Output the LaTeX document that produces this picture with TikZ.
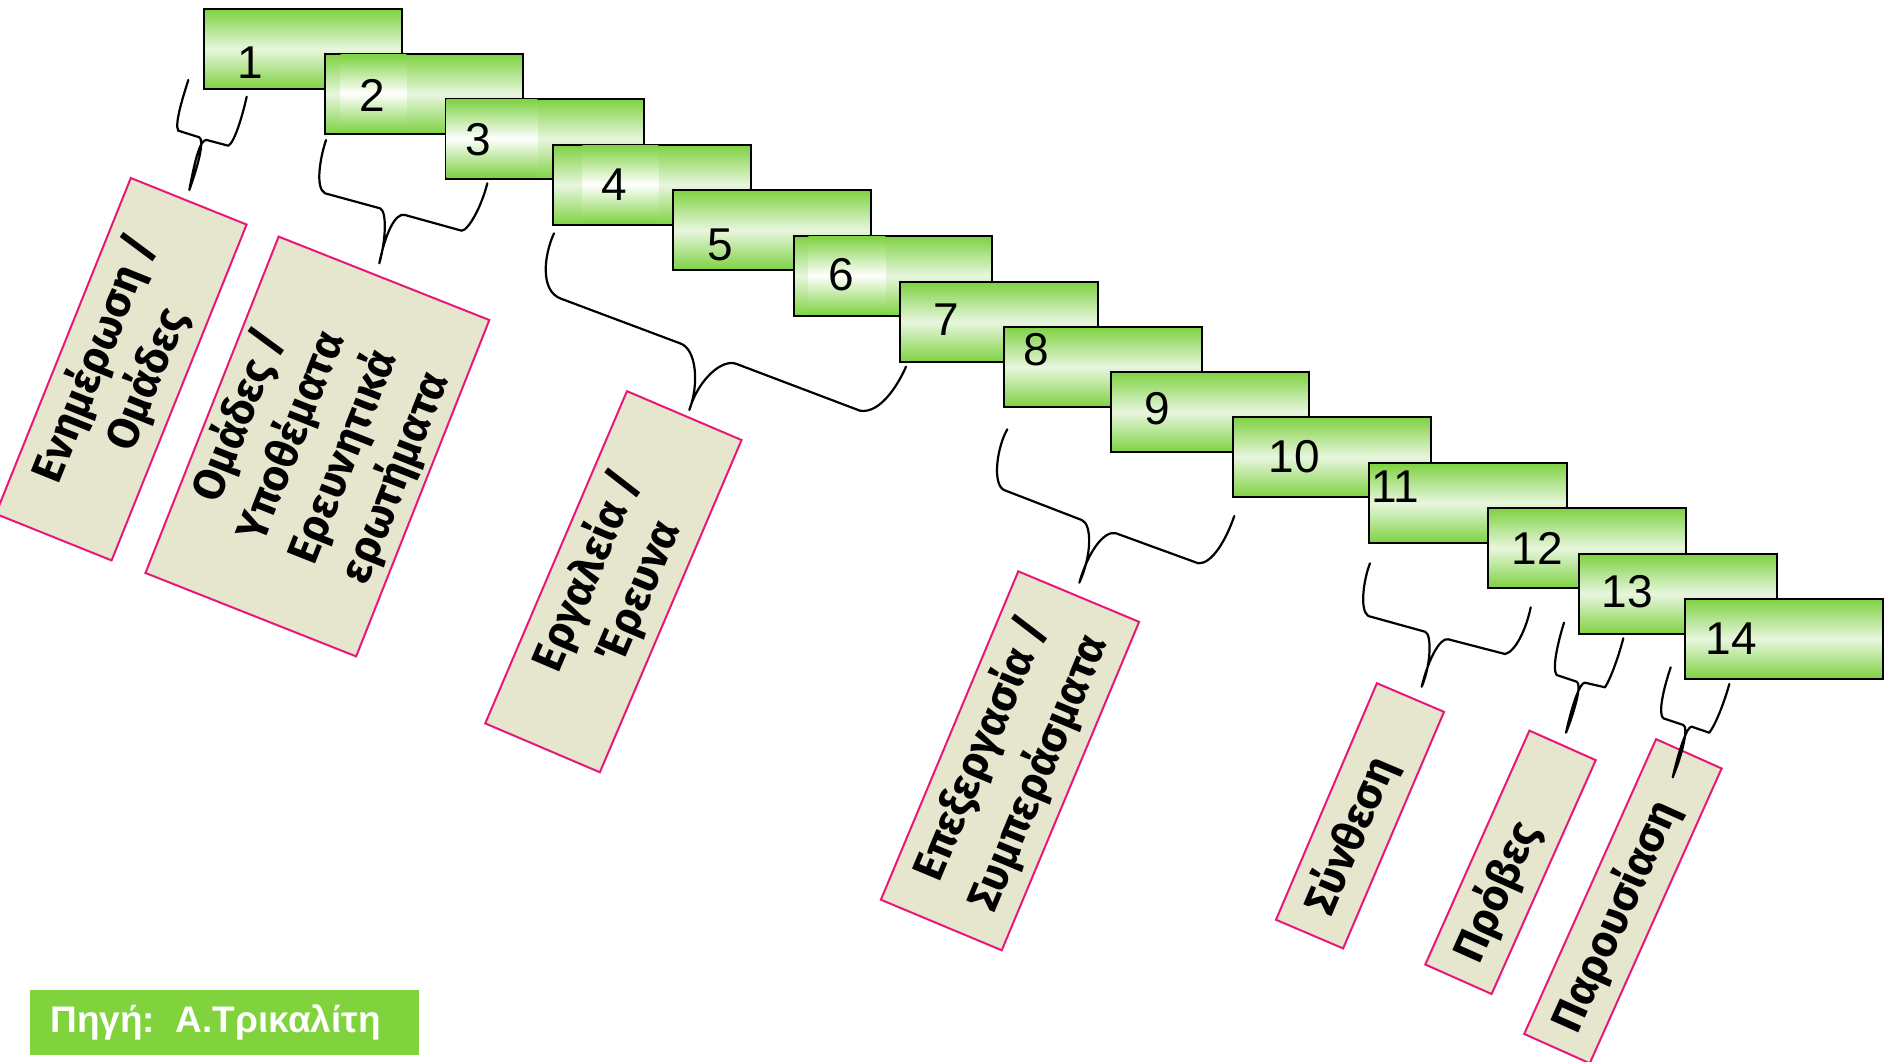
\documentclass[tikz,border=0pt]{standalone}
\usepackage{fontspec}
\setmainfont{Liberation Sans}
\newfontfamily\lblfont{Fira Sans}
\definecolor{gdark}{RGB}{126,210,66}
\definecolor{glight}{RGB}{232,246,222}
\definecolor{pinkb}{RGB}{232,24,122}
\definecolor{beige}{RGB}{230,230,206}
\definecolor{srcgreen}{RGB}{128,211,60}
\begin{document}
\begin{tikzpicture}[x=0.5pt,y=-0.5pt,
  gbox/.style={draw=black, line width=1pt, top color=gdark, bottom color=gdark, middle color=glight,
    minimum width=99pt, minimum height=40pt, inner sep=0pt, anchor=north west},
  strip/.style={top color=gdark, bottom color=gdark, middle color=white, inner sep=0pt,
    anchor=north west, minimum height=39pt},
  num/.style={font=\fontsize{23}{23}\selectfont, inner sep=0pt},
  lbl/.style={draw=pinkb, line width=1pt, fill=beige, inner sep=0pt, align=center,
    font=\lblfont\bfseries\fontsize{22}{28}\selectfont},
  brace/.style={line width=1.1pt, line cap=round, line join=round}]
\useasboundingbox (0,0) rectangle (1884,1061);
\clip (0,0) rectangle (1884,1061);

% green step boxes
\node[gbox] (b1) at (203,8) {};
\node[num] (n1) at (250,63) {1};
\node[gbox] (b2) at (324,53) {};
\node[strip, minimum width=33pt] (s2) at (340,54) {};
\node[num] (n2) at (372,95) {2};
\node[gbox] (b3) at (445,98) {};
\node[strip, minimum width=45.5pt] (s3) at (446,99) {};
\node[num] (n3) at (478,140) {3};
\node[gbox] (b4) at (552,144) {};
\node[strip, minimum width=38pt] (s4) at (582,145) {};
\node[num] (n4) at (614,185) {4};
\node[gbox] (b5) at (672,189) {};
\node[num] (n5) at (720,245) {5};
\node[gbox] (b6) at (793,235) {};
\node[strip, minimum width=38.5pt] (s6) at (808,236) {};
\node[num] (n6) at (841,275) {6};
\node[gbox] (b7) at (899,281) {};
\node[num] (n7) at (946,320) {7};
\node[gbox] (b8) at (1003,326) {};
\node[num] (n8) at (1036,350) {8};
\node[gbox] (b9) at (1110,371) {};
\node[num] (n9) at (1157,409) {9};
\node[gbox] (b10) at (1232,416) {};
\node[num] (n10) at (1294,457) {10};
\node[gbox] (b11) at (1368,462) {};
\node[num] (n11) at (1395,487) {11};
\node[gbox] (b12) at (1487,507) {};
\node[num] (n12) at (1537,548) {12};
\node[gbox] (b13) at (1578,553) {};
\node[num] (n13) at (1627,592) {13};
\node[gbox] (b14) at (1684,598) {};
\node[num] (n14) at (1731,639) {14};

% labels
\node[lbl, rotate=68.1, minimum width=181pt, minimum height=62.4pt] (l1) at (121.2,369.2)
  {Ενημέρωση /\\Ομάδες};
\node[lbl, rotate=68.4, minimum width=180.9pt, minimum height=113.3pt] (l2) at (317.4,446.5)
  {Ομάδες /\\Υποθέματα\\Ερευνητικά\\ερωτήματα};
\node[lbl, rotate=66.9, minimum width=180.6pt, minimum height=62.3pt] (l3) at (613.4,581.7)
  {Εργαλεία /\\Έρευνα};
\node[lbl, rotate=67.3, minimum width=178pt, minimum height=65.5pt,
  font=\lblfont\bfseries\fontsize{22}{31}\selectfont] (l4) at (1010,760.8)
  {Επεξεργασία /\\Συμπεράσματα};
\node[lbl, rotate=66.9, minimum width=128.6pt, minimum height=36.5pt] (l5) at (1360,815.8)
  {Σύνθεση\hspace*{22pt}};
\node[lbl, rotate=66.0, minimum width=128pt, minimum height=36.3pt] (l6) at (1510.5,862.3)
  {Πρόβες\hspace*{33pt}};
\node[lbl, rotate=65.9, minimum width=161.5pt, minimum height=35.9pt] (l7) at (1622.9,901.2)
  {Παρουσίαση\hspace*{17pt}};

% braces
\draw[brace] (188.3,80) .. controls (184,94) and (174,124) .. (178.3,130.7) -- (199.3,137.3)
  .. controls (204,140) and (200,160) .. (189.3,190)
  .. controls (195,160) and (200,139) .. (206.7,140) -- (228.3,145.7)
  .. controls (234,143) and (242,118) .. (246.7,96.7);
\draw[brace] (326,140) .. controls (320,158) and (315,188) .. (325,193.3) -- (380,208.3)
  .. controls (387,211) and (386,240) .. (379.3,263.3)
  .. controls (385,235) and (395,212) .. (405,215) -- (461.7,230.7)
  .. controls (469,230) and (482,205) .. (487.3,183.3);
\draw[brace] (554,233.3) .. controls (544,255) and (540,290) .. (560,298.3) -- (680,343.3)
  .. controls (697,349) and (699,385) .. (689.3,410)
  .. controls (698,380) and (722,358) .. (736.7,364) -- (860,410.7)
  .. controls (880,414) and (898,385) .. (906,366.7);
\draw[brace] (1007.3,429.3) .. controls (997,447) and (992,484) .. (1004,490) -- (1081.7,520)
  .. controls (1092,524) and (1092,555) .. (1079.3,582.7)
  .. controls (1088,552) and (1104,530) .. (1116,533.3) -- (1198.3,563.3)
  .. controls (1212,564) and (1226,540) .. (1234.3,516);
\draw[brace] (1370,563.3) .. controls (1364,578) and (1359,610) .. (1368.3,616) -- (1425,631.7)
  .. controls (1432,634) and (1431,665) .. (1421.7,686.7)
  .. controls (1428,660) and (1440,637) .. (1448.3,639.3) -- (1505,654)
  .. controls (1515,652) and (1526,630) .. (1530.7,607.3);
\draw[brace] (1564,622.7) .. controls (1557,645) and (1552,670) .. (1556.7,675) -- (1576.7,681.7)
  .. controls (1582,684) and (1575,710) .. (1566,732.7)
  .. controls (1572,705) and (1580,682) .. (1585,682.7) -- (1605,687.3)
  .. controls (1611,678) and (1619,655) .. (1623.3,638.3);
\draw[brace] (1670.7,667.3) .. controls (1663,690) and (1658,714) .. (1663.3,718.3) -- (1683.3,725)
  .. controls (1689,727) and (1682,755) .. (1672.7,777.3)
  .. controls (1679,750) and (1687,726) .. (1691.7,726.7) -- (1709.3,732.7)
  .. controls (1716,724) and (1725,700) .. (1729.3,684);

% source
\node[fill=srcgreen, minimum width=194.5pt, minimum height=32.5pt, inner sep=0pt, anchor=north west] (src) at (30,990) {};
\node[anchor=west, inner sep=0pt, text=white, font=\bfseries\fontsize{18.5}{20}\selectfont] (srct) at (50,1022.5) {Πηγή:\ \ Α.Τρικαλίτη};
\end{tikzpicture}
\end{document}
